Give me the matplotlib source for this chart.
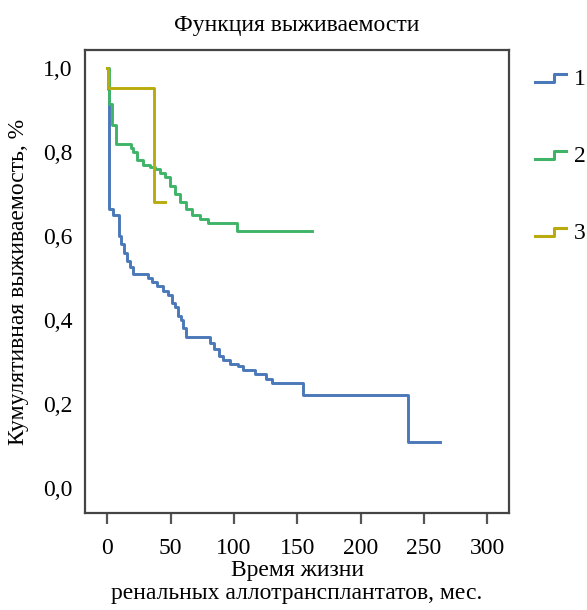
import matplotlib
matplotlib.use("Agg")
import matplotlib.pyplot as plt
from matplotlib.lines import Line2D
from matplotlib.legend_handler import HandlerBase
from matplotlib.ticker import FuncFormatter

# survival steps (months, cumulative survival)
t1 = [0, 1, 1.6, 4.7, 9.5, 11, 13.4, 15.8, 18.2, 20.5, 32.4, 35.5, 39.5, 44.2, 48.1,
      51.3, 53.7, 56, 58.4, 60, 62.3, 81.3, 84.5, 88.4, 91.6, 97, 103.4, 107.3,
      116.8, 125.5, 130.2, 154.7, 237.6, 262.8]
s1 = [1.0, 0.95, 0.665, 0.65, 0.60, 0.58, 0.56, 0.54, 0.525, 0.51, 0.50, 0.49, 0.48,
      0.47, 0.46, 0.44, 0.43, 0.41, 0.40, 0.38, 0.36, 0.345, 0.33, 0.315, 0.305, 0.295,
      0.29, 0.28, 0.27, 0.26, 0.25, 0.22, 0.11, 0.11]

t2 = [0, 1.6, 3.9, 7.1, 18.9, 20.5, 23.7, 28.4, 33.9, 37.9, 41.8, 45.8, 49.7, 53.7,
      57.6, 62.3, 67, 73.4, 79.7, 102.6, 161.8]
s2 = [1.0, 0.915, 0.865, 0.82, 0.81, 0.80, 0.78, 0.77, 0.765, 0.76, 0.75, 0.74, 0.72,
      0.70, 0.68, 0.665, 0.65, 0.64, 0.63, 0.612, 0.612]

t3 = [0, 1, 37, 46]
s3 = [1.0, 0.952, 0.68, 0.68]

groups = ["1", "2", "3"]
colors = ["#4a78b8", "#3fb468", "#b9ab0c"]

xticks = [0, 50, 100, 150, 200, 250, 300]
yticks = [0.0, 0.2, 0.4, 0.6, 0.8, 1.0]


class StepHandler(HandlerBase):
    def create_artists(self, legend, orig_handle, xdescent, ydescent, width, height,
                       fontsize, trans):
        xs = [-xdescent, -xdescent + width * 0.6, -xdescent + width * 0.6, -xdescent + width]
        ys = [height * 0.2, height * 0.2, height * 0.7, height * 0.7]
        ln = Line2D(xs, ys, color=orig_handle.get_color(), lw=2.2, transform=trans)
        return [ln]


plt.rcParams['font.family'] = ['Liberation Serif', 'DejaVu Serif']

fig = plt.figure(figsize=(5.87, 6.10), dpi=100)
ax = fig.add_axes([0.145, 0.159, 0.722, 0.759])

handles = []
for t, s, c in zip([t1, t2, t3], [s1, s2, s3], colors):
    h, = ax.step(t, s, where='post', color=c, lw=2.1)
    handles.append(h)

ax.set_xlim(-17.4, 317)
ax.set_ylim(-0.06, 1.043)
ax.set_xticks(xticks)
ax.set_yticks(yticks)
ax.yaxis.set_major_formatter(FuncFormatter(lambda v, p: f"{v:.1f}".replace(".", ",")))
ax.tick_params(axis='x', direction='out', length=8, width=1.6, color='#555555',
               labelsize=17, pad=10)
ax.tick_params(axis='y', length=0, labelsize=17, pad=9)
for sp in ax.spines.values():
    sp.set_color('#444444')
    sp.set_linewidth(1.6)

ax.set_title("Функция выживаемости", fontsize=17, pad=14)
ax.set_xlabel("Время жизни\nренальных аллотрансплантатов, мес.", fontsize=17,
              labelpad=1, linespacing=1.1)
ax.set_ylabel("Кумулятивная выживаемость, %", fontsize=17, labelpad=10)

fig.legend(handles, groups, handler_map={h: StepHandler() for h in handles},
           loc='upper left', bbox_to_anchor=(0.912, 0.887), frameon=False, fontsize=17,
           labelspacing=2.35, handlelength=1.3, handletextpad=0.35,
           borderpad=0, borderaxespad=0)

fig.savefig("out.png", dpi=100)
